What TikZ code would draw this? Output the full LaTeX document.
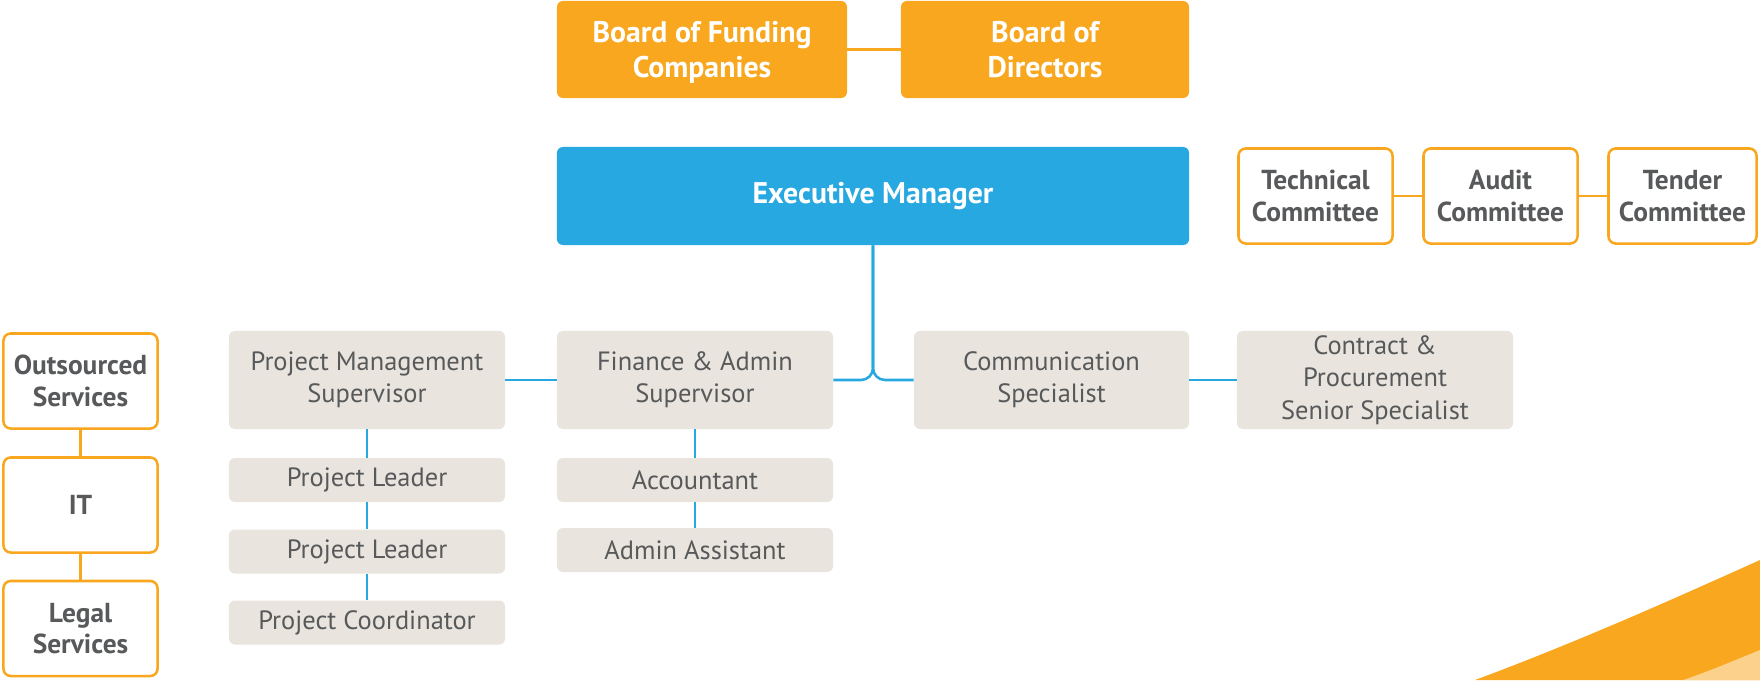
\documentclass[tikz,border=0pt]{standalone}
\usepackage{amsmath}
\usepackage{fontspec}
\setmainfont{PT Sans}
\usepackage{tikz}

\definecolor{orgorange}{HTML}{F8A71F}
\definecolor{orglight}{HTML}{FBD18B}
\definecolor{orgblue}{HTML}{27A8E0}
\definecolor{orggray}{HTML}{E9E5DE}
\definecolor{orgtext}{HTML}{58595B}

\tikzset{
    topbox/.style={fill=orgorange, rounded corners=0.15cm, text=white, align=center, inner sep=0pt,
        font=\fontsize{21.2}{25}\selectfont\bfseries, minimum height=2.425cm},
    mgrbox/.style={topbox, fill=orgblue},
    commbox/.style={draw=orgorange, line width=1.8pt, fill=white, rounded corners=0.18cm, text=orgtext,
        align=center, inner sep=0pt, font=\fontsize{19.5}{22.5}\selectfont\bfseries,
        minimum width=3.85cm, minimum height=2.375cm},
    staffbox/.style={fill=orggray, rounded corners=0.15cm, text=orgtext, align=center, inner sep=0pt,
        font=\fontsize{18.8}{23}\selectfont, minimum width=6.9cm, minimum height=2.45cm},
    smallbox/.style={staffbox, minimum height=1.1cm},
    bline/.style={orgblue, line width=1.8pt},
    oline/.style={orgorange, line width=1.8pt}
}

\begin{document}
\begin{tikzpicture}[x=0.025cm, y=-0.025cm]
    \useasboundingbox (0,0) rectangle (1760,680);

    % swoosh in the corner
    \fill[orgorange] (1475,680) .. controls (1580,641) and (1680,596) .. (1760,560) -- (1760,680) -- cycle;
    \fill[orglight] (1683,680) .. controls (1710,671) and (1735,660) .. (1760,650) -- (1760,680) -- cycle;

    % boards
    \node[topbox, minimum width=7.25cm] (funding) at (702,49.5) {Board of Funding\\\smash[b]{Companies}};
    \node[topbox, minimum width=7.2cm] (directors) at (1045,49.5) {Board of\\Directors};
    \draw[oline] (funding) -- (directors);

    % manager
    \node[mgrbox, minimum width=15.8cm, minimum height=2.45cm] (manager) at (873,196) {Executive Manager};

    % committees
    \node[commbox] (technical) at (1315.5,196) {Technical\\Committee};
    \node[commbox] (audit) at (1500.5,196) {Audit\\Committee};
    \node[commbox, minimum width=3.7cm] (tender) at (1682.5,196) {Tender\\Committee};
    \draw[oline] (technical) -- (audit);
    \draw[oline] (audit) -- (tender);

    % outsourced
    \node[commbox] (outsourced) at (80.5,381) {Outsourced\\Services};
    \node[commbox] (it) at (80.5,505) {IT};
    \node[commbox] (legal) at (80.5,628.5) {Legal\\Services};
    \draw[oline] (outsourced) -- (it);
    \draw[oline] (it) -- (legal);

    % supervisors and specialists
    \node[staffbox] (projmgmt) at (367,380) {Project Management\\Supervisor};
    \node[staffbox] (finance) at (695,380) {Finance \& Admin\\Supervisor};
    \node[staffbox, minimum width=6.875cm] (communication) at (1051.5,380) {Communication\\Specialist};
    \node[staffbox] (contract) at (1375,380) {Contract \&\\Procurement\\Senior Specialist};

    \draw[bline, rounded corners=0.3cm] (manager.south) -- (873,380) -- (finance.east);
    \draw[bline, rounded corners=0.3cm] (manager.south) -- (873,380) -- (communication.west);
    \draw[bline] (projmgmt) -- (finance);
    \draw[bline] (communication) -- (contract);

    % project team
    \node[smallbox] (leaderA) at (367,480) {Project Leader};
    \node[smallbox] (leaderB) at (367,551.5) {Project Leader};
    \node[smallbox] (coordinator) at (367,622.5) {Project Coordinator};
    \draw[bline] (projmgmt) -- (leaderA);
    \draw[bline] (leaderA) -- (leaderB);
    \draw[bline] (leaderB) -- (coordinator);

    % finance team
    \node[smallbox] (accountant) at (695,480) {Accountant};
    \node[smallbox] (assistant) at (695,550) {Admin Assistant};
    \draw[bline] (finance) -- (accountant);
    \draw[bline] (accountant) -- (assistant);
\end{tikzpicture}
\end{document}
